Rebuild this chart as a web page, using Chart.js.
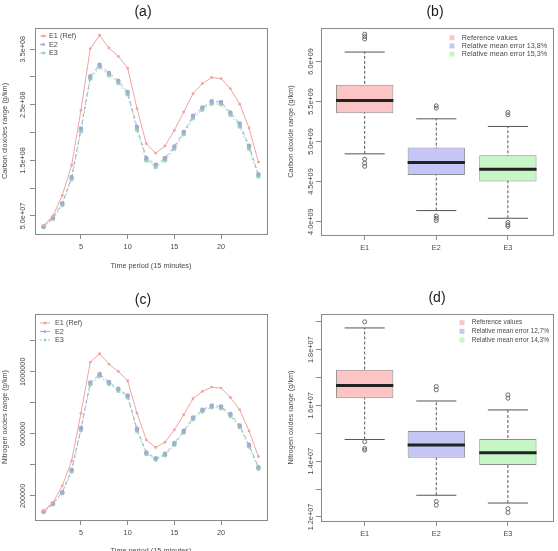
<!DOCTYPE html>
<html>
<head>
<meta charset="utf-8">
<script src="https://cdn.jsdelivr.net/npm/chart.js@4/dist/chart.umd.min.js"></script>
<style>
    html, body { margin: 0; padding: 0; background: #fff; width: 558px; height: 551px; overflow: hidden; }
    .panel { position: absolute; }
</style>
</head>
<body>
<div class="panel" style="left:0;top:0"><canvas id="chA" width="279" height="275"></canvas></div>
<div class="panel" style="left:279px;top:0"><canvas id="chB" width="279" height="275"></canvas></div>
<div class="panel" style="left:0;top:275px"><canvas id="chC" width="279" height="290"></canvas></div>
<div class="panel" style="left:279px;top:275px"><canvas id="chD" width="279" height="276"></canvas></div>
<script>
// ---- data ----
var timeSteps = [1, 2, 3, 4, 5, 6, 7, 8, 9, 10, 11, 12, 13, 14, 15, 16, 17, 18, 19, 20, 21, 22, 23, 24];
var timeTicks = [5, 10, 15, 20];
var lineNames = ['E1 (Ref)', 'E2', 'E3'];

var co2E1 = [3.3e7, 5.0e7, 8.7e7, 1.41e8, 2.40e8, 3.51e8, 3.75e8, 3.52e8, 3.37e8, 3.16e8, 2.43e8, 1.80e8,
             1.63e8, 1.76e8, 2.04e8, 2.37e8, 2.70e8, 2.88e8, 2.99e8, 2.97e8, 2.79e8, 2.51e8, 2.08e8, 1.47e8];
var co2E2 = [3.1e7, 4.7e7, 7.3e7, 1.20e8, 2.07e8, 3.01e8, 3.22e8, 3.07e8, 2.93e8, 2.73e8, 2.10e8, 1.54e8,
             1.42e8, 1.54e8, 1.75e8, 2.01e8, 2.30e8, 2.45e8, 2.56e8, 2.55e8, 2.36e8, 2.16e8, 1.76e8, 1.25e8];
var co2E3 = [3.0e7, 4.5e7, 7.0e7, 1.16e8, 2.02e8, 2.97e8, 3.18e8, 3.03e8, 2.89e8, 2.69e8, 2.05e8, 1.50e8,
             1.38e8, 1.50e8, 1.71e8, 1.97e8, 2.26e8, 2.41e8, 2.52e8, 2.51e8, 2.32e8, 2.11e8, 1.71e8, 1.21e8];
var co2YTicks = [5e7, 1e8, 1.5e8, 2e8, 2.5e8, 3e8, 3.5e8];
var co2YLabels = ['5.0e+07', '', '1.5e+08', '', '2.5e+08', '', '3.5e+08'];

var noxE1 = [103000, 157000, 265000, 426000, 733000, 1062000, 1116000, 1049000, 1002000, 942000, 733000, 561000,
             512000, 546000, 626000, 723000, 826000, 873000, 901000, 895000, 834000, 755000, 619000, 454000];
var noxE2 = [99000, 151000, 224000, 368000, 637000, 931000, 985000, 933000, 890000, 847000, 632000, 480000,
             443000, 471000, 540000, 619000, 705000, 755000, 783000, 776000, 727000, 654000, 529000, 385000];
var noxE3 = [97000, 147000, 218000, 358000, 625000, 918000, 972000, 921000, 878000, 835000, 620000, 470000,
             434000, 462000, 530000, 608000, 694000, 744000, 772000, 765000, 716000, 643000, 518000, 375000];
var noxYTicks = [200000, 400000, 600000, 800000, 1000000, 1200000];
var noxYLabels = ['200000', '', '600000', '', '1000000', ''];

var boxCats = ['E1', 'E2', 'E3'];
var boxPos = [1, 2, 3];

var co2Lo = [4.846e9, 4.138e9, 4.042e9];
var co2Q1 = [5.354e9, 4.583e9, 4.500e9];
var co2Med = [5.513e9, 4.738e9, 4.654e9];
var co2Q3 = [5.708e9, 4.925e9, 4.829e9];
var co2Hi = [6.117e9, 5.283e9, 5.188e9];
var co2Out = [[6.34e9, 6.31e9, 6.28e9, 4.78e9, 4.73e9, 4.69e9],
              [5.446e9, 5.417e9, 4.071e9, 4.042e9, 4.013e9],
              [5.363e9, 5.333e9, 3.99e9, 3.96e9, 3.94e9]];
var co2BoxTicks = [4.0e9, 4.5e9, 5.0e9, 5.5e9, 6.0e9];
var co2BoxLabels = ['4.0e+09', '4.5e+09', '5.0e+09', '5.5e+09', '6.0e+09'];
var co2Legend = ['Reference values', 'Relative mean error 13,8%', 'Relative mean error 15,3%'];

var noxLo = [1.478e7, 1.278e7, 1.250e7];
var noxQ1 = [1.626e7, 1.412e7, 1.386e7];
var noxMed = [1.672e7, 1.458e7, 1.430e7];
var noxQ3 = [1.728e7, 1.508e7, 1.480e7];
var noxHi = [1.878e7, 1.616e7, 1.584e7];
var noxOut = [[1.900e7, 1.470e7, 1.446e7, 1.440e7],
              [1.668e7, 1.656e7, 1.256e7, 1.242e7],
              [1.638e7, 1.626e7, 1.230e7, 1.216e7]];
var noxBoxTicks = [1.2e7, 1.3e7, 1.4e7, 1.5e7, 1.6e7, 1.7e7, 1.8e7, 1.9e7];
var noxBoxLabels = ['1.2e+07', '', '1.4e+07', '', '1.6e+07', '', '1.8e+07', ''];
var noxLegend = ['Reference values', 'Relative mean error 12,7%', 'Relative mean error 14,3%'];

// ---- styling ----
var FAMILY = '"Liberation Sans", Arial, sans-serif';
var SMALL = 7.3;
var TXT = '#4a4a4a';
var FRAME = '#8a8a8a';
var lineColors = ['#f2a2a2', '#a3acce', '#95d6b4'];
var lineDash = [[], [4, 3], [2, 2]];
var boxFills = ['#fcc4c4', '#c6c6f6', '#c6f6c6'];
var boxWidth = 0.8;
var capWidth = 0.56;

function fixedTicks(list) {
    return function (scale) {
        scale.ticks = list.map(function (v) { return { value: v }; });
    };
}

function decor(cfg) {
    return {
        id: 'decor',
        afterDraw: function (chart) {
            var ctx = chart.ctx, a = chart.chartArea, ys = chart.scales.y;
            ctx.save();
            ctx.strokeStyle = FRAME;
            ctx.lineWidth = 1;
            ctx.strokeRect(Math.round(a.left) + 0.5, Math.round(a.top) + 0.5,
                Math.round(a.right - a.left), Math.round(a.bottom - a.top));

            // rotated y tick labels, like R's default
            ctx.font = SMALL + 'px ' + FAMILY;
            ctx.fillStyle = TXT;
            ctx.textAlign = 'center';
            ctx.textBaseline = 'middle';
            cfg.yTicks.forEach(function (v, i) {
                if (!cfg.yLabels[i]) return;
                ctx.save();
                ctx.translate(cfg.yLabelX, ys.getPixelForValue(v));
                ctx.rotate(-Math.PI / 2);
                ctx.fillText(cfg.yLabels[i], 0, 0);
                ctx.restore();
            });

            // legend
            ctx.font = (cfg.legFont || SMALL) + 'px ' + FAMILY;
            ctx.textAlign = 'left';
            cfg.legend.forEach(function (name, i) {
                var y = cfg.legY + i * cfg.legStep;
                if (cfg.kind === 'line') {
                    ctx.strokeStyle = lineColors[i];
                    ctx.setLineDash(lineDash[i]);
                    ctx.beginPath();
                    ctx.moveTo(cfg.legX0, y);
                    ctx.lineTo(cfg.legX1, y);
                    ctx.stroke();
                    ctx.setLineDash([]);
                    ctx.fillStyle = lineColors[i];
                    ctx.beginPath();
                    ctx.arc((cfg.legX0 + cfg.legX1) / 2, y, 1.5, 0, Math.PI * 2);
                    ctx.fill();
                } else {
                    ctx.fillStyle = boxFills[i];
                    ctx.fillRect(cfg.legX0 - 2.5, y - 2.5, 5, 5);
                }
                ctx.fillStyle = TXT;
                ctx.fillText(name, cfg.legTextX, y);
            });

            // panel tag
            ctx.font = '14px ' + FAMILY;
            ctx.fillStyle = '#1a1a1a';
            ctx.textAlign = 'center';
            ctx.fillText(cfg.tag, cfg.tagX, cfg.tagY);
            ctx.restore();
        }
    };
}

function axisCommon() {
    return {
        grid: { drawOnChartArea: false, drawTicks: true, tickLength: 5, color: FRAME, offset: false },
        border: { display: true, color: FRAME }
    };
}

function lineChart(id, series, yMin, yMax, yTicks, yLabels, yTitle, cfg) {
    var datasets = series.map(function (vals, i) {
        return {
            label: lineNames[i],
            data: timeSteps.map(function (t, j) { return { x: t, y: vals[j] }; }),
            borderColor: lineColors[i],
            backgroundColor: lineColors[i],
            borderWidth: 1,
            borderDash: lineDash[i],
            pointRadius: i === 0 ? 1.4 : 2.3,
            pointBorderWidth: 0,
            pointBackgroundColor: lineColors[i],
            tension: 0,
            order: i === 0 ? 1 : 2 + i
        };
    });
    var x = axisCommon(), y = axisCommon();
    Object.assign(x, {
        type: 'linear', min: 0.08, max: 24.92, offset: false,
        afterBuildTicks: fixedTicks(timeTicks),
        afterFit: function (s) { s.height = cfg.xH; },
        ticks: { font: { family: FAMILY, size: SMALL }, color: TXT, padding: 4, maxRotation: 0, autoSkip: false },
        title: { display: true, text: 'Time period (15 minutes)', color: TXT,
                 font: { family: FAMILY, size: SMALL }, padding: { top: 0, bottom: cfg.xTitlePad } }
    });
    Object.assign(y, {
        type: 'linear', min: yMin, max: yMax,
        afterBuildTicks: fixedTicks(yTicks),
        afterFit: function (s) { s.width = cfg.yW; },
        ticks: { display: false },
        title: { display: true, text: yTitle, color: TXT,
                 font: { family: FAMILY, size: SMALL }, padding: { top: cfg.yTitlePad, bottom: 0 } }
    });
    cfg.kind = 'line';
    cfg.yTicks = yTicks;
    cfg.yLabels = yLabels;
    cfg.legend = lineNames;
    return new Chart(document.getElementById(id), {
        type: 'line',
        data: { datasets: datasets },
        options: {
            responsive: false,
            animation: false,
            layout: { padding: { left: 0, top: cfg.top, right: cfg.right, bottom: 0 } },
            plugins: { legend: { display: false }, tooltip: { enabled: false } },
            scales: { x: x, y: y }
        },
        plugins: [decor(cfg)]
    });
}

function halfPx(chart, units) {
    var s = chart.scales.x;
    return Math.abs(s.getPixelForValue(1 + units) - s.getPixelForValue(1));
}

function boxChart(id, lo, q1, med, q3, hi, outs, yMin, yMax, yTicks, yLabels, yTitle, legend, cfg) {
    var whisker = [], caps = [], outliers = [];
    boxPos.forEach(function (p, i) {
        whisker.push({ x: p, y: lo[i] }, { x: p, y: hi[i] }, { x: p, y: null });
        caps.push({ x: p, y: lo[i] }, { x: p, y: hi[i] });
        outs[i].forEach(function (v) { outliers.push({ x: p, y: v }); });
    });
    var datasets = [
        {
            type: 'line', data: whisker, borderColor: '#555', borderWidth: 1, borderDash: [3, 2],
            pointRadius: 0, spanGaps: false, order: 5
        },
        {
            type: 'line', data: caps, showLine: false, pointStyle: 'line', borderColor: '#555',
            pointBorderWidth: 1, pointRadius: function (c) { return halfPx(c.chart, capWidth / 2); }, order: 4
        },
        {
            type: 'bar', data: boxPos.map(function (p, i) { return { x: p, y: [q1[i], q3[i]] }; }),
            backgroundColor: boxFills, borderColor: '#8c8c8c', borderWidth: 1, borderSkipped: false,
            barPercentage: boxWidth, categoryPercentage: 1, order: 3
        },
        {
            type: 'line', data: outliers, showLine: false, pointStyle: 'circle', pointRadius: 2,
            pointBorderWidth: 1, borderColor: '#6a6a6a', pointBackgroundColor: 'rgba(0,0,0,0)', order: 2
        },
        {
            type: 'line', data: boxPos.map(function (p, i) { return { x: p, y: med[i] }; }), showLine: false,
            pointStyle: 'line', borderColor: '#222', pointBorderWidth: 3,
            pointRadius: function (c) { return halfPx(c.chart, boxWidth / 2); }, order: 1
        }
    ];
    var x = axisCommon(), y = axisCommon();
    Object.assign(x, {
        type: 'linear', min: 0.39, max: 3.63, offset: false,
        afterBuildTicks: fixedTicks(boxPos),
        afterFit: function (s) { s.height = cfg.xH; },
        ticks: {
            font: { family: FAMILY, size: SMALL }, color: TXT, padding: 4, maxRotation: 0, autoSkip: false,
            callback: function (v) { return boxCats[boxPos.indexOf(v)]; }
        }
    });
    Object.assign(y, {
        type: 'linear', min: yMin, max: yMax,
        afterBuildTicks: fixedTicks(yTicks),
        afterFit: function (s) { s.width = cfg.yW; },
        ticks: { display: false },
        title: { display: true, text: yTitle, color: TXT,
                 font: { family: FAMILY, size: SMALL }, padding: { top: cfg.yTitlePad, bottom: 0 } }
    });
    cfg.kind = 'box';
    cfg.yTicks = yTicks;
    cfg.yLabels = yLabels;
    cfg.legend = legend;
    return new Chart(document.getElementById(id), {
        type: 'bar',
        data: { datasets: datasets },
        options: {
            responsive: false,
            animation: false,
            layout: { padding: { left: 0, top: cfg.top, right: cfg.right, bottom: 0 } },
            plugins: { legend: { display: false }, tooltip: { enabled: false } },
            scales: { x: x, y: y }
        },
        plugins: [decor(cfg)]
    });
}

lineChart('chA', [co2E1, co2E2, co2E3], 1.76e7, 3.88e8, co2YTicks, co2YLabels, 'Carbon dioxides range (g/km)', {
    top: 28, right: 12, xH: 41, yW: 35, xTitlePad: 4.6, yTitlePad: 0.5, yLabelX: 22.5,
    legX0: 40, legX1: 47, legTextX: 49, legY: 36, legStep: 8.5,
    tag: '(a)', tagX: 143, tagY: 12
});

boxChart('chB', co2Lo, co2Q1, co2Med, co2Q3, co2Hi, co2Out, 3.833e9, 6.417e9, co2BoxTicks, co2BoxLabels,
    'Carbon dioxide range (g/km)', co2Legend, {
    top: 28, right: 5, xH: 40, yW: 42, yTitlePad: 7.5, yLabelX: 31.7,
    legX0: 173, legTextX: 182.7, legY: 37.7, legStep: 8.2, legFont: 7.2,
    tag: '(b)', tagX: 156, tagY: 12
});

lineChart('chC', [noxE1, noxE2, noxE3], 45000, 1372000, noxYTicks, noxYLabels, 'Nitrogen oxides range (g/km)', {
    top: 39, right: 12, xH: 45, yW: 35, xTitlePad: 9.3, yTitlePad: 0.5, yLabelX: 22.5,
    legX0: 40, legX1: 50, legTextX: 55, legY: 48, legStep: 8.5,
    tag: '(c)', tagX: 143, tagY: 25
});

boxChart('chD', noxLo, noxQ1, noxMed, noxQ3, noxHi, noxOut, 1.1856e7, 1.928e7, noxBoxTicks, noxBoxLabels,
    'Nitrogen oxides range (g/km)', noxLegend, {
    top: 39, right: 5, xH: 30, yW: 42, yTitlePad: 7.5, yLabelX: 31.7,
    legX0: 183, legTextX: 192.7, legY: 47.7, legStep: 8.6, legFont: 6.5,
    tag: '(d)', tagX: 158, tagY: 23
});
</script>
</body>
</html>
